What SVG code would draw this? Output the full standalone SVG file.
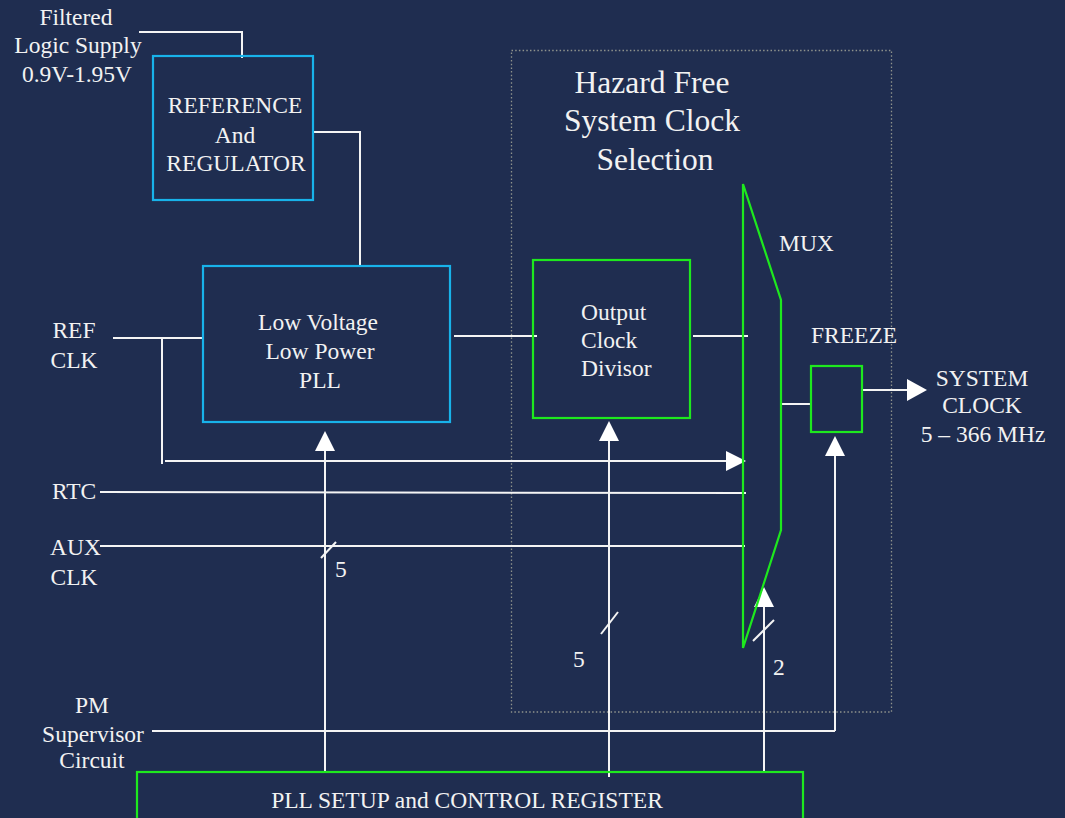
<svg xmlns="http://www.w3.org/2000/svg" width="1065" height="818" viewBox="0 0 1065 818">
<style>
text{font-family:"Liberation Serif","Times New Roman",serif;fill:#f2f2f2;font-size:23.5px}
.c{text-anchor:middle}
.t{font-size:31.5px}
.blue{fill:none;stroke:#18b2ea;stroke-width:2.2}
.green{fill:none;stroke:#1ee81e;stroke-width:2.2}
.w{fill:none;stroke:#f4f4f4;stroke-width:2}
.ah{fill:#ffffff;stroke:none}
</style>
<rect width="1065" height="818" fill="#1f2d50"/>
<rect x="511.5" y="50.5" width="380" height="661.5" fill="none" stroke="#8e928c" stroke-width="1.3" stroke-dasharray="1.5,2.2"/>
<g id="title"><text class="c t" x="652" y="93">Hazard Free</text><text class="c t" x="652" y="131">System Clock</text><text class="c t" x="655" y="170">Selection</text></g>
<g id="connectors">
<polyline class="w" points="139,32 242,32 242,58"/>
<polyline class="w" points="313,132 360,132 360,266"/>
<line class="w" x1="113" y1="338" x2="203" y2="338"/>
<line class="w" x1="162" y1="338" x2="162" y2="464"/>
<line class="w" x1="165" y1="461" x2="728" y2="461"/>
<polygon class="ah" points="746,461 726,451 726,471"/>
<line class="w" x1="100" y1="492" x2="746" y2="493"/>
<line class="w" x1="100" y1="546" x2="745" y2="546"/>
<line class="w" x1="454" y1="336" x2="537" y2="336"/>
<line class="w" x1="693" y1="336" x2="748" y2="336"/>
<line class="w" x1="781" y1="404" x2="811" y2="404"/>
<line class="w" x1="862" y1="390" x2="908" y2="390"/>
<polygon class="ah" points="927,390 907,379 907,401"/>
<line class="w" x1="152" y1="731" x2="835" y2="731"/>
<line class="w" x1="835" y1="731" x2="835" y2="454"/>
<polygon class="ah" points="835,436 825,456 845,456"/>
<line class="w" x1="325" y1="772" x2="325" y2="449"/>
<polygon class="ah" points="325,431 315,451 335,451"/>
<line class="w" x1="609" y1="777" x2="609" y2="439"/>
<polygon class="ah" points="609,421 599,441 619,441"/>
<line class="w" x1="764" y1="772" x2="764" y2="605"/>
<polygon class="ah" points="764,587 754,607 774,607"/>
<line class="w" x1="321" y1="558" x2="336" y2="542"/>
<line class="w" x1="601" y1="634" x2="618" y2="612"/>
<line class="w" x1="753" y1="641" x2="774" y2="620"/>
</g>
<g id="supply"><text class="c" x="76" y="25">Filtered</text><text class="c" x="78" y="53">Logic Supply</text><text class="c" x="77" y="82">0.9V-1.95V</text></g>
<g id="ref-reg"><rect class="blue" x="153" y="56" width="160" height="144"/><text class="c" x="235" y="113">REFERENCE</text><text class="c" x="235" y="143">And</text><text class="c" x="236" y="171">REGULATOR</text></g>
<g id="pll"><rect class="blue" x="203" y="266" width="247" height="156"/><text class="c" x="318" y="330">Low Voltage</text><text class="c" x="320" y="359">Low Power</text><text class="c" x="320" y="388">PLL</text></g>
<g id="refclk"><text class="c" x="74" y="338">REF</text><text class="c" x="74" y="368">CLK</text></g>
<g id="rtc"><text x="52" y="499">RTC</text></g>
<g id="auxclk"><text x="50" y="555">AUX</text><text class="c" x="74" y="585">CLK</text></g>
<g id="pm"><text class="c" x="92" y="713">PM</text><text class="c" x="93" y="742">Supervisor</text><text class="c" x="92" y="768">Circuit</text></g>
<g id="divisor"><rect class="green" x="533" y="260" width="157" height="158"/><text x="581" y="320">Output</text><text x="581" y="348">Clock</text><text x="581" y="376">Divisor</text></g>
<g id="mux"><polygon class="green" points="743,184 781,300 781,530 743,648"/><text x="779" y="251">MUX</text></g>
<g id="freeze"><rect class="green" x="811" y="366" width="51" height="66"/><text x="811" y="343">FREEZE</text></g>
<g id="sysclk"><text class="c" x="982" y="386">SYSTEM</text><text class="c" x="982" y="413">CLOCK</text><text class="c" x="983" y="442">5 – 366 MHz</text></g>
<g id="bus-labels"><text x="335" y="577">5</text><text x="573" y="667">5</text><text x="773" y="675">2</text></g>
<g id="register"><rect class="green" x="137" y="772" width="666" height="60"/><text class="c" x="467" y="808">PLL SETUP and CONTROL REGISTER</text></g>
</svg>
